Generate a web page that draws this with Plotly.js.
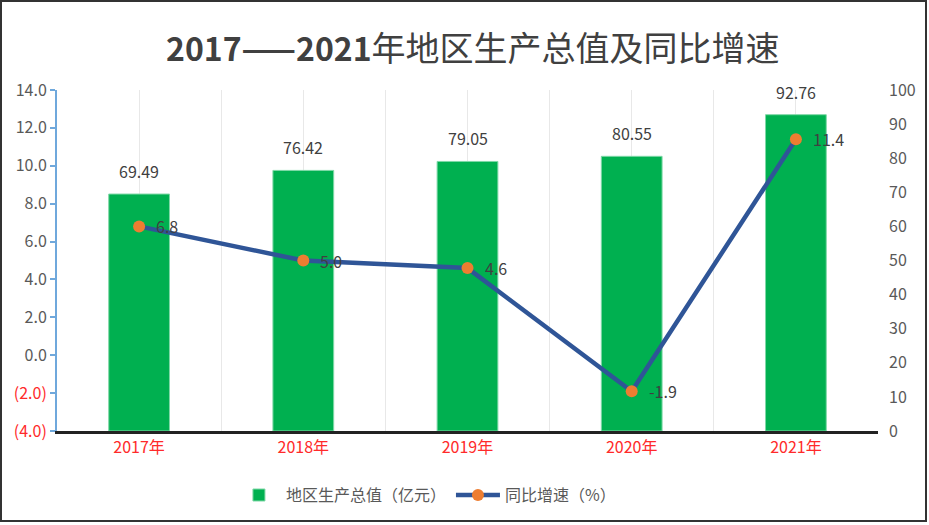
<!DOCTYPE html>
<html>
<head>
<meta charset="utf-8">
<script src="https://cdn.plot.ly/plotly-3.0.1.min.js"></script>
<style>
  body { margin: 0; background: #fff; }
  #chart { width: 929px; height: 525px; position: absolute; left: 0; top: 0; }
  #frame { position: absolute; left: 0; top: 0; width: 923px; height: 518px;
           border: 2px solid #333; pointer-events: none; }
</style>
</head>
<body>
<div id="chart"></div>
<div id="frame"></div>
<script>
let years = ["2017年", "2018年", "2019年", "2020年", "2021年"];
let gdp = [69.49, 76.42, 79.05, 80.55, 92.76];
let growth = [6.8, 5.0, 4.6, -1.9, 11.4];

let leftTickVals = [-4, -2, 0, 2, 4, 6, 8, 10, 12, 14];
let leftTickText = ["(4.0)", "(2.0)", "0.0", "2.0", "4.0", "6.0", "8.0", "10.0", "12.0", "14.0"];
let rightTickVals = [0, 10, 20, 30, 40, 50, 60, 70, 80, 90, 100];

let font = "Noto Sans CJK SC, Open Sans, sans-serif";
let xs = years.map((y, i) => i);
let boundaries = years.map((y, i) => i - 0.5).concat([years.length - 0.5]);

let bars = {
    x: xs,
    y: gdp,
    type: 'bar',
    name: '地区生产总值（亿元）',
    width: 0.37,
    marker: { color: '#00B050', line: { color: '#7fd8a7', width: 1 } },
    yaxis: 'y',
    hoverinfo: 'y'
};

let line = {
    x: xs,
    y: growth,
    type: 'scatter',
    mode: 'lines+markers',
    name: '同比增速（%）',
    line: { color: '#2F5597', width: 4.5 },
    marker: { color: '#ED7D31', size: 12 },
    yaxis: 'y2'
};

let annotations = [];
gdp.forEach(function (v, i) {
    annotations.push({
        x: i, y: v, xref: 'x', yref: 'y',
        text: v.toFixed(2),
        showarrow: false,
        yanchor: 'bottom',
        yshift: 9,
        font: { size: 16, color: '#404040', family: font }
    });
});
growth.forEach(function (v, i) {
    annotations.push({
        x: i, y: v, xref: 'x', yref: 'y2',
        text: v.toFixed(1),
        showarrow: false,
        xanchor: 'left',
        xshift: 15,
        font: { size: 16, color: '#404040', family: font }
    });
});

let layout = {
    width: 929,
    height: 525,
    margin: { l: 57, r: 51, t: 90, b: 94 },
    paper_bgcolor: '#ffffff',
    plot_bgcolor: '#ffffff',
    font: { family: font, color: '#595959' },
    title: {
        text: '<b>2017——2021</b><span style="font-size:34px">年地区生产总值及同比增速</span>',
        font: { size: 32, color: '#404040', family: font },
        x: 0.509, xref: 'container', xanchor: 'center',
        y: 0.905, yanchor: 'middle'
    },
    showlegend: true,
    legend: {
        orientation: 'h',
        x: 0.45, xanchor: 'center',
        y: -0.188, yanchor: 'middle',
        font: { size: 16, color: '#595959', family: font },
        itemwidth: 44
    },
    xaxis: {
        range: [-0.5, 4.5],
        tickmode: 'array',
        tickvals: xs,
        ticktext: years,
        tickfont: { size: 16, color: '#ff2a2a', family: font },
        showgrid: true,
        gridcolor: '#e8e8e8',
        gridwidth: 1,
        minor: { tickvals: boundaries, showgrid: true, gridcolor: '#e8e8e8', gridwidth: 1, ticks: '' },
        showline: true,
        linecolor: '#222222',
        linewidth: 3,
        ticks: '',
        zeroline: false,
        fixedrange: true
    },
    yaxis: {
        side: 'right',
        range: [0, 100],
        tickmode: 'array',
        tickvals: rightTickVals,
        tickfont: { size: 16, color: '#595959', family: font },
        ticklabelstandoff: 10,
        showgrid: false,
        showline: false,
        zeroline: false,
        ticks: '',
        ticklen: 0
    },
    yaxis2: {
        side: 'left',
        overlaying: 'y',
        range: [-4, 14],
        tickmode: 'array',
        tickvals: leftTickVals,
        ticktext: leftTickText.map((t, i) => leftTickVals[i] < 0 ? '<span style="color:#ff2a2a">' + t + '</span>' : t),
        tickfont: { size: 16, color: '#595959', family: font },
        showgrid: false,
        zeroline: false,
        showline: true,
        linecolor: '#6fa8dc',
        linewidth: 2,
        ticks: 'outside',
        ticklen: 5,
        tickcolor: '#6fa8dc',
        tickwidth: 2
    },
    annotations: annotations
};

Plotly.newPlot('chart', [bars, line], layout, { displayModeBar: false, staticPlot: true });
</script>
</body>
</html>
